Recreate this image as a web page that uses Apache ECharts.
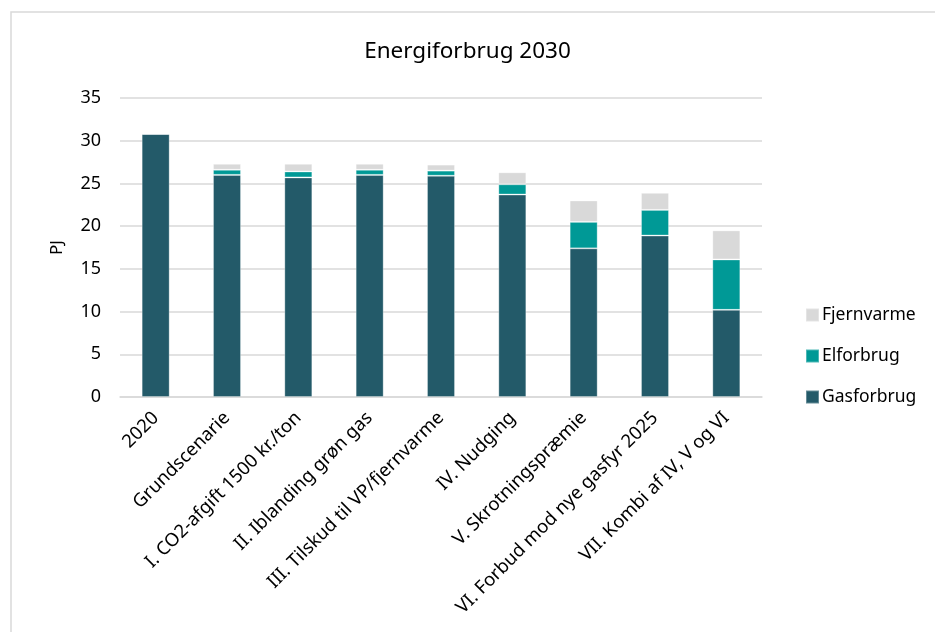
<!DOCTYPE html>
<html><head><meta charset="utf-8">
<script src="https://cdn.jsdelivr.net/npm/echarts@6/dist/echarts.min.js"></script>
<style>html,body{margin:0;padding:0;background:#fff}#c{width:935px;height:632px}</style>
</head><body><div id="c"></div>
<script>
const categories = ['2020','Grundscenarie','I. CO2-afgift 1500 kr./ton','II. Iblanding grøn gas','III. Tilskud til VP/fjernvarme','IV. Nudging','V. Skrotningspræmie','VI. Forbud mod nye gasfyr 2025','VII. Kombi af IV, V og VI'];
const gasforbrug = [30.8, 26.0, 25.7, 26.0, 25.9, 23.7, 17.4, 18.9, 10.2];
const elforbrug = [0, 0.6, 0.7, 0.6, 0.6, 1.2, 3.1, 3.0, 5.9];
const fjernvarme = [0, 0.7, 0.9, 0.7, 0.7, 1.4, 2.5, 2.0, 3.4];
const yTicks = [0, 5, 10, 15, 20, 25, 30, 35];

const font = 'Noto Sans';
const chart = echarts.init(document.getElementById('c'), null, {renderer: 'canvas'});
const barStyle = c => ({color: c, borderColor: 'rgba(255,255,255,0.3)', borderWidth: 1});
chart.setOption({
  animation: false,
  textStyle: {fontFamily: font},
  title: {text: 'Energiforbrug 2030', left: 'center', top: 35,
    textStyle: {fontFamily: font, fontSize: 22.5, fontWeight: 'normal', color: '#000'}},
  graphic: [{type: 'rect', shape: {x: 11, y: 12, width: 1000, height: 700},
    style: {fill: 'none', stroke: '#d9d9d9', lineWidth: 1.5}, silent: true}],
  grid: {left: 120, right: 173, top: 98, bottom: 235, containLabel: false},
  legend: {orient: 'vertical', left: 800, top: 301, itemWidth: 13, itemHeight: 13, itemGap: 23,
    icon: 'rect', data: ['Fjernvarme', 'Elforbrug', 'Gasforbrug'],
    textStyle: {fontFamily: font, fontSize: 17.5, color: '#000', padding: [0,0,0,-2]}},
  xAxis: {type: 'category', data: categories,
    axisLine: {lineStyle: {color: '#d9d9d9', width: 1.5}}, axisTick: {show: false},
    axisLabel: {rotate: 45, interval: 0, fontFamily: font, fontSize: 18.5, color: '#000', margin: 18}},
  yAxis: {type: 'value', min: yTicks[0], max: yTicks[yTicks.length-1], interval: 5,
    name: 'PJ', nameLocation: 'middle', nameGap: 54, nameRotate: 90,
    nameTextStyle: {fontFamily: font, fontSize: 16.5, color: '#000'},
    axisLine: {show: false}, axisTick: {show: false},
    axisLabel: {fontFamily: font, fontSize: 18, color: '#000', margin: 19},
    splitLine: {lineStyle: {color: '#d9d9d9', width: 1.5}}},
  series: [
    {name: 'Gasforbrug', type: 'bar', stack: 's', data: gasforbrug, barWidth: 28, itemStyle: barStyle('#235a69')},
    {name: 'Elforbrug', type: 'bar', stack: 's', data: elforbrug, barWidth: 28, itemStyle: barStyle('#009996')},
    {name: 'Fjernvarme', type: 'bar', stack: 's', data: fjernvarme, barWidth: 28, itemStyle: barStyle('#d9d9d9')}
  ]
});
</script></body></html>
